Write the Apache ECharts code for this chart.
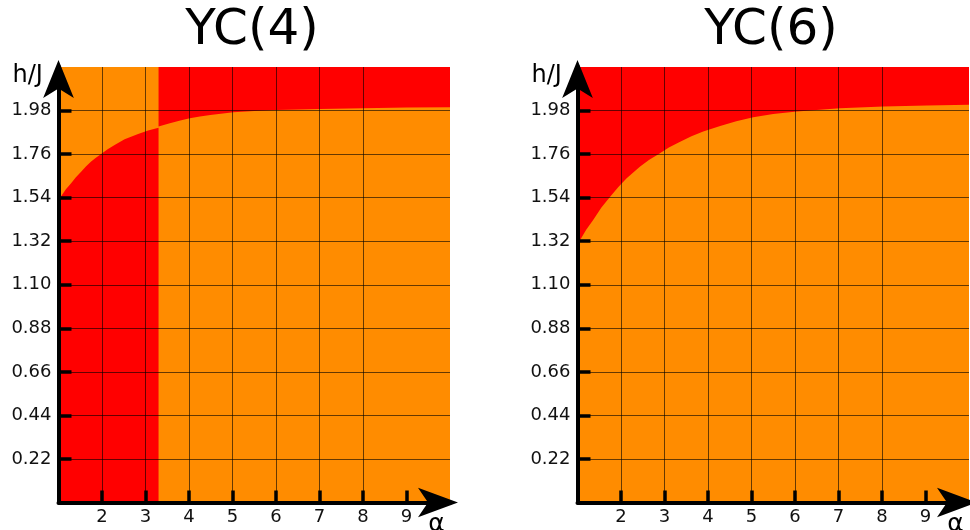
<!DOCTYPE html>
<html>
<head>
<meta charset="utf-8">
<script src="https://cdn.jsdelivr.net/npm/echarts@6/dist/echarts.min.js"></script>
<style>
html,body{margin:0;padding:0;background:#fff;}
#chart{width:970px;height:530px;}
</style>
</head>
<body>
<div id="chart"></div>
<script>
// ---- data ----
const panelTitles = ['YC(4)', 'YC(6)'];
const xTicks = [2, 3, 4, 5, 6, 7, 8, 9];
const yTicks = [0.22, 0.44, 0.66, 0.88, 1.10, 1.32, 1.54, 1.76, 1.98];

// YC(4): red below curve for alpha < 3.3, red above curve for alpha > 3.3
const yc4LowAlpha = [1.0, 1.06, 1.17, 1.29, 1.4, 1.52, 1.63, 1.75, 1.86, 1.98, 2.13, 2.29, 2.52, 2.83, 3.06, 3.3];
const yc4LowH     = [1.53, 1.547, 1.582, 1.613, 1.643, 1.671, 1.697, 1.722, 1.742, 1.761, 1.785, 1.806, 1.835, 1.862, 1.879, 1.893];
const yc4HighAlpha = [3.3, 3.56, 3.8, 4.02, 4.25, 4.49, 5.02, 5.5, 6.02, 7.01, 8.0, 9.0, 10];
const yc4HighH     = [1.900, 1.916, 1.930, 1.941, 1.950, 1.958, 1.972, 1.978, 1.983, 1.988, 1.992, 1.995, 1.997];

// YC(6): red above curve
const yc6Alpha = [1.0, 1.06, 1.2, 1.36, 1.55, 1.75, 1.94, 2.13, 2.44, 2.65, 2.86, 3.1, 3.36, 3.62, 3.89, 4.28, 4.65, 5.04, 5.5, 6.04, 7.03, 8.03, 9.03, 10];
const yc6H     = [1.305, 1.326, 1.378, 1.427, 1.49, 1.545, 1.594, 1.638, 1.697, 1.731, 1.759, 1.793, 1.823, 1.85, 1.874, 1.902, 1.926, 1.946, 1.962, 1.975, 1.992, 2.0, 2.005, 2.009];

const zip = (a, b) => a.map((v, i) => [v, b[i]]);

const FONT = 'DejaVu Sans';
const ORANGE = '#FF8C00';
const RED = '#FF0000';

const gridLefts = [58.5, 577.5];
const grids = gridLefts.map(l => ({
  left: l, top: 67, width: 391.5, height: 435.5,
  show: true, backgroundColor: ORANGE, borderWidth: 0
}));

function xAxisFor(i) {
  return {
    type: 'value', gridIndex: i, min: 1, max: 10, interval: 1, z: 5,
    axisLine: {
      show: true, onZero: false,
      lineStyle: { color: '#000', width: 4 },
      symbol: ['none', 'arrow'], symbolSize: [22, 40], symbolOffset: [0, 8]
    },
    axisTick: {
      show: true, inside: true, length: 12, customValues: xTicks,
      lineStyle: { color: '#000', width: 3.5 }
    },
    axisLabel: {
      show: true, customValues: xTicks, margin: 6,
      color: '#111', fontSize: 18, fontFamily: FONT,
      formatter: v => (xTicks.indexOf(Math.round(v)) >= 0 && Math.abs(v - Math.round(v)) < 1e-6) ? String(Math.round(v)) : ''
    },
    splitLine: { show: true, showMaxLine: false, lineStyle: { color: 'rgba(0,0,0,0.6)', width: 1 } }
  };
}
function yAxisFor(i) {
  return {
    type: 'value', gridIndex: i, min: 0, max: 2.2, interval: 0.22, z: 5,
    axisLine: {
      show: true, onZero: false,
      lineStyle: { color: '#000', width: 4 },
      symbol: ['none', 'arrow'], symbolSize: [23, 38], symbolOffset: [0, 7]
    },
    axisTick: {
      show: true, inside: true, length: 13, customValues: yTicks,
      lineStyle: { color: '#000', width: 3.5 }
    },
    axisLabel: {
      show: true, customValues: yTicks, margin: 7,
      color: '#111', fontSize: 18, fontFamily: FONT,
      formatter: v => {
        const s = Number(v).toFixed(2);
        return yTicks.some(t => Math.abs(t - v) < 1e-6) ? s : '';
      }
    },
    splitLine: { show: true, lineStyle: { color: 'rgba(0,0,0,0.6)', width: 1 } }
  };
}

function area(data, xi, origin) {
  return {
    type: 'line', xAxisIndex: xi, yAxisIndex: xi, data: data,
    showSymbol: false, symbol: 'none', smooth: false,
    lineStyle: { width: 0, color: RED },
    areaStyle: { color: RED, opacity: 1, origin: origin },
    z: 2, silent: true, animation: false
  };
}

const texts = [];
panelTitles.forEach((t, i) => {
  const gl = gridLefts[i];
  texts.push({ type: 'text', x: gl + 193.5, y: 31, style: { text: t, font: '50px ' + FONT, fill: '#000', textAlign: 'center', textVerticalAlign: 'middle' } });
  texts.push({ type: 'text', x: gl - 46, y: 76, style: { text: 'h/J', font: '24px ' + FONT, fill: '#000', textAlign: 'left', textVerticalAlign: 'middle' } });
  texts.push({ type: 'text', x: gl + 378, y: 524, style: { text: 'α', font: '25px ' + FONT, fill: '#000', textAlign: 'center', textVerticalAlign: 'middle' } });
});

const chart = echarts.init(document.getElementById('chart'), null, { renderer: 'canvas' });
chart.setOption({
  animation: false,
  backgroundColor: '#fff',
  grid: grids,
  xAxis: [xAxisFor(0), xAxisFor(1)],
  yAxis: [yAxisFor(0), yAxisFor(1)],
  series: [
    area(zip(yc4LowAlpha, yc4LowH), 0, 'start'),
    area(zip(yc4HighAlpha, yc4HighH), 0, 'end'),
    area(zip(yc6Alpha, yc6H), 1, 'end')
  ],
  graphic: texts
});
</script>
</body>
</html>
